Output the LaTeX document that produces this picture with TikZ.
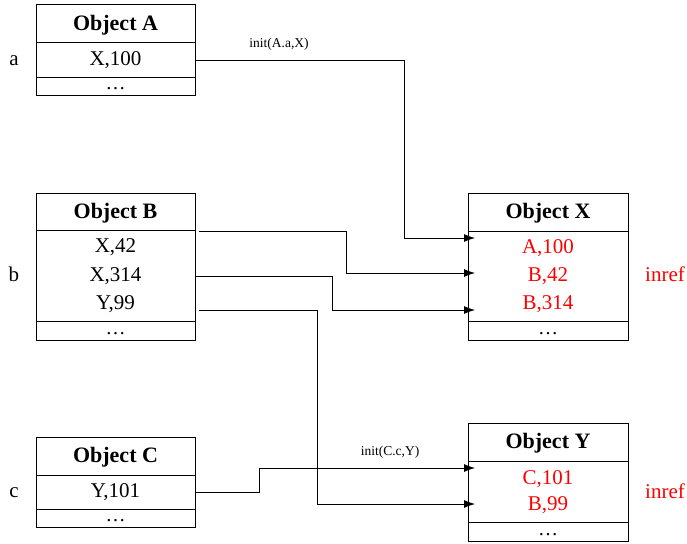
\documentclass[tikz,border=0pt]{standalone}
\usepackage{fontspec}
\setmainfont{Liberation Serif}
\usetikzlibrary{arrows.meta,calc}
\begin{document}
\begin{tikzpicture}[x=1pt,y=-1pt,
  box/.style={draw, line width=1pt, minimum width=159pt, inner sep=0pt, outer sep=0pt},
  hdr/.style={box, font=\fontsize{22}{26}\selectfont\bfseries, text height=13.8pt, text depth=0pt},
  body/.style={box},
  dotrow/.style={box, font=\fontsize{20}{24}\selectfont, text height=7pt, text depth=0pt},
  entry/.style={font=\fontsize{21}{25}\selectfont, text height=13.4pt, text depth=0pt, inner sep=0pt},
  redentry/.style={entry, text=red},
  sidelbl/.style={entry},
  arr/.style={line width=0.8pt, -{Latex[length=11pt,width=8pt]}},
  lbl/.style={font=\fontsize{13.5}{16}\selectfont, inner sep=0pt}
]
\useasboundingbox (0,0) rectangle (687,543);

% Object A
\node[hdr, minimum height=38] (Ah) at (115.5,24) {Object A};
\node[box, minimum height=34] (Ar) at (115.5,60) {};
\node[entry] (A1) at (115.5,59) {X,100};
\node[dotrow, minimum height=18] (Ad) at (115.5,86) {\dots};
\node[sidelbl] (la) at (14,59) {a};

% Object B
\node[hdr, minimum height=37] (Bh) at (115.5,211.5) {Object B};
\node[body, minimum height=91] (Bb) at (115.5,275.5) {};
\node[dotrow, minimum height=19] (Bd) at (115.5,330.5) {\dots};
\node[entry] (B1) at (115.5,246) {X,42};
\node[entry] (B2) at (115.5,275) {X,314};
\node[entry] (B3) at (115.5,303) {Y,99};
\node[sidelbl] (lb) at (14,275) {b};

% Object C
\node[hdr, minimum height=38] (Ch) at (115.5,456) {Object C};
\node[box, minimum height=34] (Cr) at (115.5,492) {};
\node[entry] (C1) at (115.5,491) {Y,101};
\node[dotrow, minimum height=18] (Cd) at (115.5,518) {\dots};
\node[sidelbl] (lc) at (14,491) {c};

% Object X
\node[hdr, minimum width=160, minimum height=38] (Xh) at (548,212) {Object X};
\node[body, minimum width=160, minimum height=90] (Xb) at (548,276) {};
\node[dotrow, minimum width=160, minimum height=19] (Xd) at (548,330.5) {\dots};
\node[redentry] (X1) at (548,247) {A,100};
\node[redentry] (X2) at (548,275) {B,42};
\node[redentry] (X3) at (548,303) {B,314};
\node[redentry] (Xref) at (665,275) {inref};

% Object Y
\node[hdr, minimum width=160, minimum height=38] (Yh) at (548,442) {Object Y};
\node[body, minimum width=160, minimum height=61] (Yb) at (548,491.5) {};
\node[dotrow, minimum width=160, minimum height=19] (Yd) at (548,531.5) {\dots};
\node[redentry] (Y1) at (548,478) {C,101};
\node[redentry] (Y2) at (548,504) {B,99};
\node[redentry] (Yref) at (665,492) {inref};

% connector end points
\coordinate (B1s) at (199,231);
\coordinate (B2s) at (195,276);
\coordinate (B3s) at (199,310);
\coordinate (Xin1) at (475,238);
\coordinate (Xin2) at (475,273);
\coordinate (Xin3) at (475,310);
\coordinate (Yin1) at (475,468);
\coordinate (Yin2) at (475,504);

% connectors
\draw[arr] (Ar.east) -| (404,238) -- (Xin1);
\draw[arr] (B1s) -| (346,273) -- (Xin2);
\draw[arr] (B2s) -| (332,310) -- (Xin3);
\draw[arr] (B3s) -| (317,504) -- (Yin2);
\draw[arr] (Cr.east) -| (259,468) -- (Yin1);

\node[lbl] (ia) at (279,44) {init(A.a,X)};
\node[lbl] (ic) at (390,452) {init(C.c,Y)};
\end{tikzpicture}
\end{document}
